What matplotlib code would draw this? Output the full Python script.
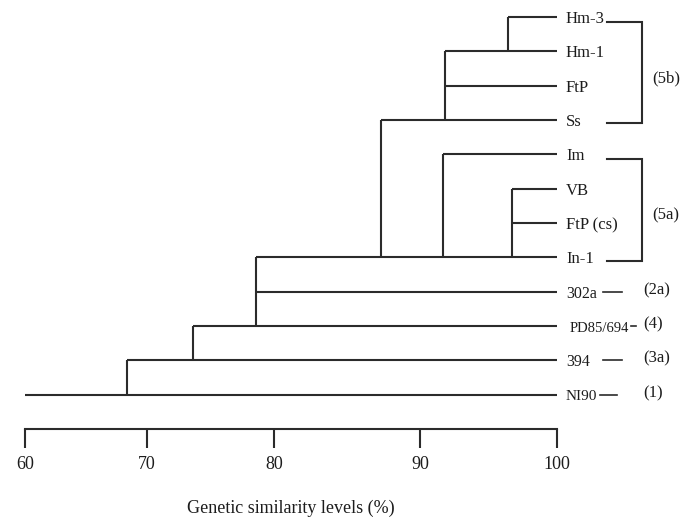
import numpy as np
import matplotlib
matplotlib.use("Agg")
import matplotlib.pyplot as plt
import matplotlib.transforms as mtransforms

plt.rcParams['font.family'] = ['Liberation Serif', 'DejaVu Serif']

# ---------------- data ----------------
leaves = ['Hm-3', 'Hm-1', 'FtP', 'Ss', 'Im', 'VB', 'FtP (cs)', 'In-1',
          '302a', 'PD85/694', '394', 'NI90']
node_names = ['n0', 'n1', 'n2', 'n3', 'n4', 'n5', 'n6', 'n7']
node_similarity = [96.4, 91.8, 96.7, 91.7, 87.3, 78.6, 73.6, 68.4]
node_children = [['Hm-3', 'Hm-1'],
                 ['n0', 'FtP', 'Ss'],
                 ['VB', 'FtP (cs)', 'In-1'],
                 ['Im', 'n2'],
                 ['n1', 'n3'],
                 ['n4', '302a', 'PD85/694'],
                 ['n5', '394'],
                 ['n6', 'NI90']]
genotype_labels = ['(5b)', '(5a)', '(2a)', '(4)', '(3a)', '(1)']
genotype_members = [['Hm-3', 'Hm-1', 'FtP', 'Ss'],
                    ['Im', 'VB', 'FtP (cs)', 'In-1'],
                    ['302a'], ['PD85/694'], ['394'], ['NI90']]
tick_values = [60, 70, 80, 90, 100]
xlabel = 'Genetic similarity levels (%)'

# ---------------- layout / style ----------------
W, H = 683, 519
scale_px = [25, 147, 274, 420, 557]   # printed (uneven) scale of the original
LC = '#2b2b2b'
TC = '#1c1c1c'
LW = 1.5


def fwd(x):
    return np.interp(x, tick_values, scale_px)


def inv(p):
    return np.interp(p, scale_px, tick_values)


fig = plt.figure(figsize=(W / 100, H / 100), dpi=100)
ax = fig.add_axes([25 / W, 90 / H, 532 / W, 429 / H])
ax.set_xscale('function', functions=(fwd, inv))
ax.set_xlim(60, 100)
step = (429 - 17) / 12.0
ax.set_ylim(12, -17 / step)

for s in ['left', 'top', 'right']:
    ax.spines[s].set_visible(False)
ax.spines['bottom'].set_linewidth(LW)
ax.spines['bottom'].set_color(LC)
ax.set_yticks([])
ax.set_xticks(tick_values)
ax.set_xticklabels([str(v) for v in tick_values])
ax.tick_params(axis='x', direction='out', length=13.5, width=LW, color=LC,
               labelsize=13, labelcolor=TC, pad=6)
ax.set_xlabel(xlabel, fontsize=13, color=TC, labelpad=19)

# ---------------- dendrogram ----------------
pos_y = {name: i for i, name in enumerate(leaves)}
pos_x = {name: 100.0 for name in leaves}
for name, sim, kids in zip(node_names, node_similarity, node_children):
    ys = [pos_y[k] for k in kids]
    ax.plot([sim, sim], [min(ys), max(ys)], color=LC, lw=LW,
            solid_capstyle='butt', clip_on=False)
    for k in kids:
        ax.plot([sim, pos_x[k]], [pos_y[k], pos_y[k]], color=LC, lw=LW,
                solid_capstyle='butt', clip_on=False)
    pos_y[name] = max(ys)
    pos_x[name] = sim
root = node_names[-1]
ax.plot([60, pos_x[root]], [pos_y[root], pos_y[root]], color=LC, lw=LW,
        solid_capstyle='butt', clip_on=False)

# leaf labels
label_size = {'PD85/694': 10.5, '302a': 11.5, '394': 11.5, 'NI90': 11}
label_dx = {'PD85/694': 13}
for name in leaves:
    ax.annotate(name, xy=(100, pos_y[name]), xytext=(label_dx.get(name, 9), -2),
                textcoords='offset pixels', ha='left', va='center',
                fontsize=label_size.get(name, 12), color=TC,
                annotation_clip=False)

# genotype brackets / dashes
tb = mtransforms.blended_transform_factory(fig.transFigure, ax.transData)
dash_px = {'302a': (603, 622), 'PD85/694': (631, 636), '394': (603, 622),
           'NI90': (600, 617)}
for lab, mem in zip(genotype_labels, genotype_members):
    if len(mem) > 1:
        y0 = pos_y[mem[0]] + 0.15
        y1 = pos_y[mem[-1]] + 0.1
        xa, xb = 607 / W, 642 / W
        ax.plot([xa, xb, xb, xa], [y0, y0, y1, y1], color=LC, lw=LW,
                transform=tb, clip_on=False, solid_joinstyle='miter')
        ax.text(652 / W, (y0 + y1) / 2 + 0.15, lab, transform=tb,
                ha='left', va='center', fontsize=12, color=TC)
    else:
        y = pos_y[mem[0]]
        xa, xb = dash_px[mem[0]]
        ax.plot([xa / W, xb / W], [y, y], color=LC, lw=1.2,
                transform=tb, clip_on=False)
        ax.text(643 / W, y - 0.05, lab, transform=tb,
                ha='left', va='center', fontsize=12, color=TC)

fig.savefig('out.png', dpi=100)
